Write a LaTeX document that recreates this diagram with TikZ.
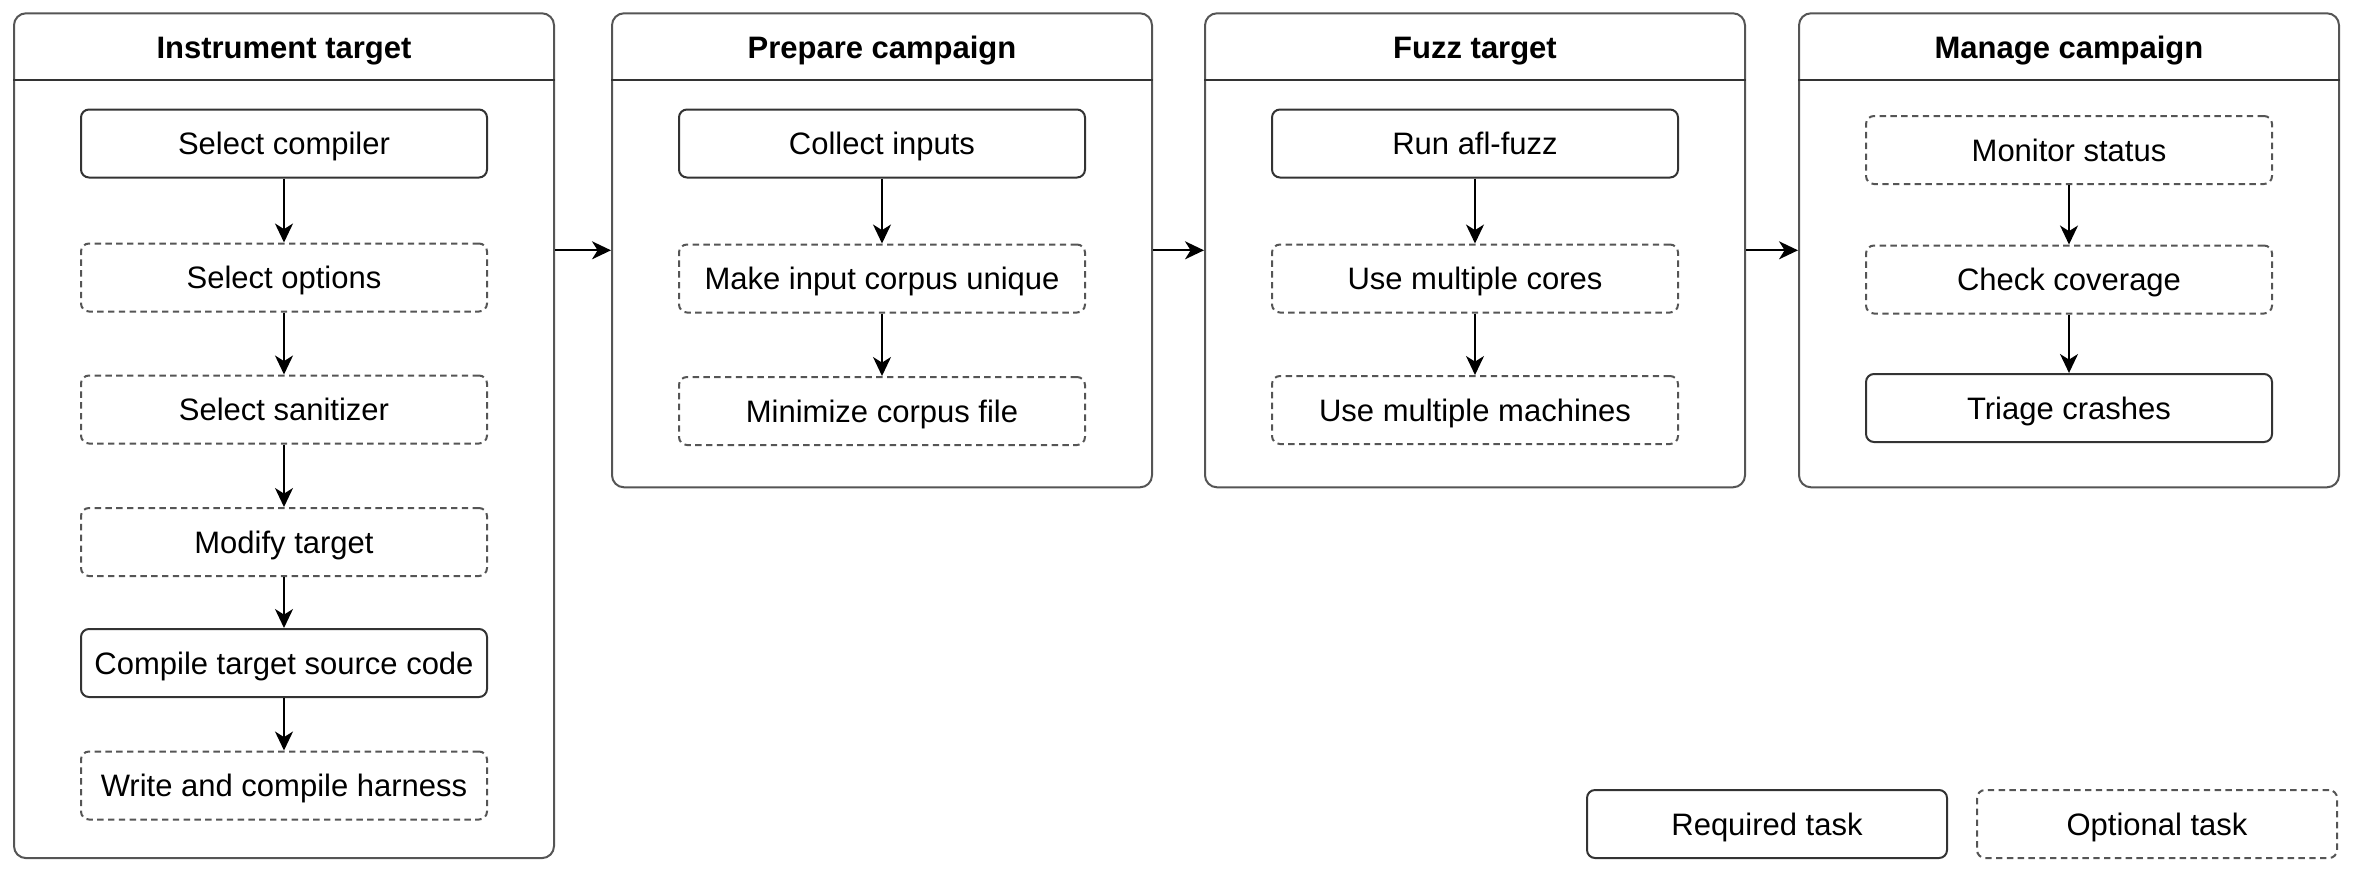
\documentclass[tikz,border=0pt]{standalone}
\usepackage{fontspec}
\setmainfont{Liberation Sans}
\usetikzlibrary{arrows.meta}
\definecolor{edge}{HTML}{333333}
\definecolor{frame}{HTML}{555555}
\tikzset{
  panel/.style={draw=frame, line width=1pt, rounded corners=6pt, minimum width=270pt, inner sep=0pt},
  capcenter/.style={text height=13pt, text depth=1.9pt},
  paneltitle/.style={font=\bfseries\fontsize{15.5pt}{18pt}\selectfont, inner sep=0pt, capcenter},
  task/.style={draw=edge, line width=1pt, rounded corners=4pt, minimum width=203pt,
               minimum height=34pt, inner sep=0pt, capcenter, font=\fontsize{15.5pt}{18pt}\selectfont},
  required/.style={task},
  optional/.style={task, draw=frame, dash pattern=on 3.2pt off 2.2pt},
  legendbox/.style={minimum width=180pt},
  flow/.style={-{Stealth[length=9.5pt,width=9pt,inset=2.8pt]}, line width=0.85pt, black},
  divider/.style={draw=edge, line width=1pt},
}
\begin{document}
\begin{tikzpicture}[x=0.5pt,y=-0.5pt]
\useasboundingbox (0,0) rectangle (2354,879);

% phase panels
\node[panel, minimum height=422.4pt] (c1) at (284,435.7) {};
\node[panel, minimum height=237pt]   (c2) at (882,250.3) {};
\node[panel, minimum height=237pt]   (c3) at (1475,250.3) {};
\node[panel, minimum height=237pt]   (c4) at (2069,250.3) {};

% header separators
\coordinate (hy) at (0,80);
\draw[divider] (c1.west |- hy) -- (c1.east |- hy);
\draw[divider] (c2.west |- hy) -- (c2.east |- hy);
\draw[divider] (c3.west |- hy) -- (c3.east |- hy);
\draw[divider] (c4.west |- hy) -- (c4.east |- hy);

% panel titles
\node[paneltitle] (t1) at (284,47)  {Instrument target};
\node[paneltitle] (t2) at (882,47)  {Prepare campaign};
\node[paneltitle] (t3) at (1475,47) {Fuzz target};
\node[paneltitle] (t4) at (2069,47) {Manage campaign};

% instrument target
\node[required] (a1) at (284,143.5) {Select compiler};
\node[optional] (a2) at (284,277.5) {Select options};
\node[optional] (a3) at (284,409.5) {Select sanitizer};
\node[optional] (a4) at (284,542)   {Modify target};
\node[required] (a5) at (284,663)   {Compile target source code};
\node[optional] (a6) at (284,785.5) {Write and compile harness};

% prepare campaign
\node[required] (b1) at (882,143.5) {Collect inputs};
\node[optional] (b2) at (882,278.5) {Make input corpus unique};
\node[optional] (b3) at (882,411)   {Minimize corpus file};

% fuzz target
\node[required] (f1) at (1475,143.5) {Run afl-fuzz};
\node[optional] (f2) at (1475,278.5) {Use multiple cores};
\node[optional] (f3) at (1475,410)   {Use multiple machines};

% manage campaign
\node[optional] (m1) at (2069,150)   {Monitor status};
\node[optional] (m2) at (2069,279.5) {Check coverage};
\node[required] (m3) at (2069,408)   {Triage crashes};

% legend
\node[required, legendbox] (lr) at (1767,824) {Required task};
\node[optional, legendbox] (lo) at (2157,824) {Optional task};

% task flow inside panels
\draw[flow] (a1) -- (a2);
\draw[flow] (a2) -- (a3);
\draw[flow] (a3) -- (a4);
\draw[flow] (a4) -- (a5);
\draw[flow] (a5) -- (a6);
\draw[flow] (b1) -- (b2);
\draw[flow] (b2) -- (b3);
\draw[flow] (f1) -- (f2);
\draw[flow] (f2) -- (f3);
\draw[flow] (m1) -- (m2);
\draw[flow] (m2) -- (m3);

% flow between phases
\draw[flow] (c1.east |- c2.west) -- (c2.west);
\draw[flow] (c2.east) -- (c3.west);
\draw[flow] (c3.east) -- (c4.west);
\end{tikzpicture}
\end{document}
